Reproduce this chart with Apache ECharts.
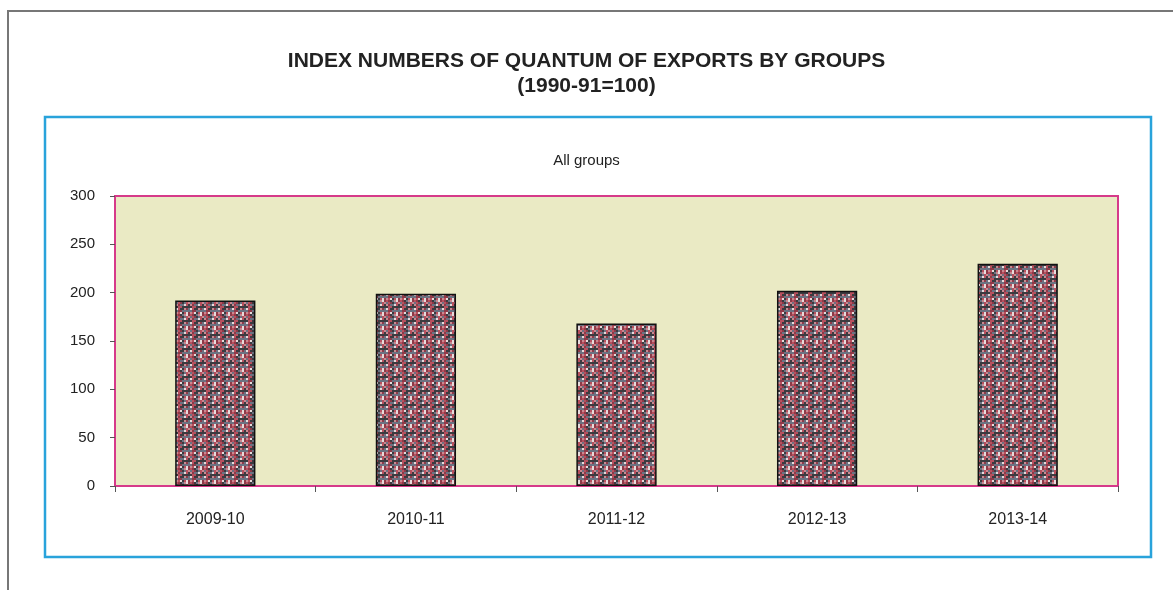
<!DOCTYPE html>
<html>
<head>
<meta charset="utf-8">
<style>
  html, body { margin: 0; padding: 0; background: #fff; }
  #chart { width: 1173px; height: 590px; }
</style>
<script src="https://cdn.jsdelivr.net/npm/echarts@6/dist/echarts.min.js"></script>
</head>
<body>
<div id="chart"></div>
<script>
  const years = ['2009-10', '2010-11', '2011-12', '2012-13', '2013-14']
  const allGroups = [192, 199, 168, 202, 230]
  const yTicks = [0, 50, 100, 150, 200, 250, 300]

  // speckled fill like the old excel pattern
  function speckle () {
    const c = document.createElement('canvas')
    c.width = 14
    c.height = 14
    const ctx = c.getContext('2d')
    const cols = ['#3b3b40', '#b8505e', '#e6dcdc', '#6b7282', '#8e3a48', '#c98890']
    for (let i = 0; i < 7; i++) {
      for (let j = 0; j < 7; j++) {
        ctx.fillStyle = cols[(i * 5 + j * 3 + (i * j) % 5) % cols.length]
        ctx.fillRect(i * 2, j * 2, 2, 2)
      }
    }
    return c
  }

  const chart = echarts.init(document.getElementById('chart'))
  chart.setOption({
    animation: false,
    title: [
      {
        text: 'INDEX NUMBERS OF QUANTUM OF EXPORTS BY GROUPS\n(1990-91=100)',
        left: 'center',
        top: 44,
        textStyle: { fontFamily: 'Liberation Sans', fontSize: 21, fontWeight: 'bold', color: '#222', lineHeight: 25 }
      },
      {
        text: 'All groups',
        left: 'center',
        top: 148,
        textStyle: { fontFamily: 'Liberation Sans', fontSize: 15, fontWeight: 'normal', color: '#222' }
      }
    ],
    graphic: [
      {
        type: 'polyline',
        shape: { points: [[8, 590], [8, 11], [1173, 11]] },
        style: { stroke: '#777', lineWidth: 2, fill: null }
      },
      {
        type: 'rect',
        shape: { x: 45, y: 117, width: 1106, height: 440 },
        style: { stroke: '#29a3db', lineWidth: 2.5, fill: null }
      }
    ],
    grid: {
      left: 115,
      right: 55,
      top: 196,
      bottom: 104,
      show: true,
      backgroundColor: '#eaeac4',
      borderColor: '#d63a8a',
      borderWidth: 2
    },
    xAxis: {
      type: 'category',
      data: years,
      axisLine: { show: true, lineStyle: { color: '#d63a8a', width: 2 } },
      axisTick: { show: true, length: 6, lineStyle: { color: '#555' } },
      axisLabel: { fontFamily: 'Liberation Sans', fontSize: 16, color: '#222', margin: 26 }
    },
    yAxis: {
      type: 'value',
      min: yTicks[0],
      max: yTicks[yTicks.length - 1],
      interval: 50,
      splitLine: { show: false },
      axisLine: { show: true, lineStyle: { color: '#d63a8a', width: 2 } },
      axisTick: { show: true, length: 5, lineStyle: { color: '#555' } },
      axisLabel: { fontFamily: 'Liberation Sans', fontSize: 15, color: '#222', margin: 20 }
    },
    series: [
      {
        name: 'All groups',
        type: 'bar',
        barWidth: '40%',
        data: allGroups,
        itemStyle: {
          color: { image: speckle(), repeat: 'repeat' },
          borderColor: '#111',
          borderWidth: 1.5
        }
      }
    ]
  })
</script>
</body>
</html>
